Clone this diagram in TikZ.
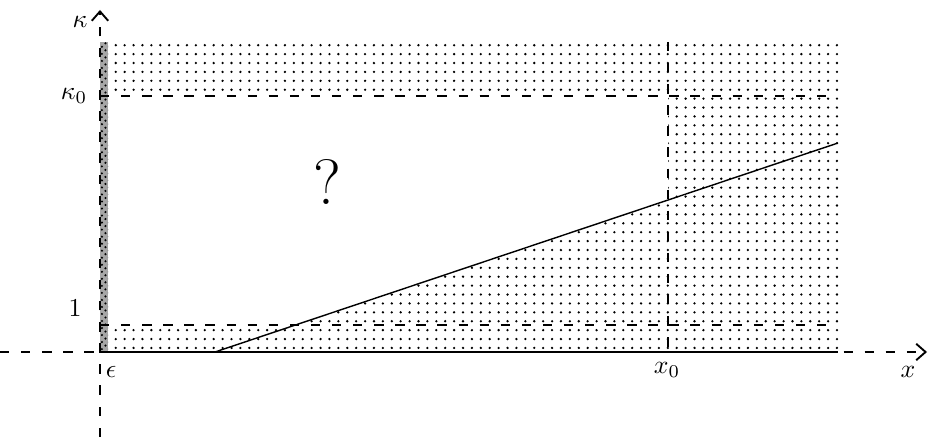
\documentclass[tikz,border=0pt]{standalone}
\usetikzlibrary{patterns,patterns.meta,arrows.meta}
\begin{document}
\begin{tikzpicture}[
    x=0.015cm, y=-0.015cm,
    % Ejes y guias discontinuas
    axis/.style={semithick, dash pattern=on 4pt off 5pt,
                 -{Straight Barb[length=4pt, width=7pt, line width=0.8pt]}},
    guide/.style={semithick, dash pattern=on 4pt off 5pt},
    % Zonas sombreadas
    dotted area/.style={pattern={Dots[distance=3.8pt, radius=0.55pt]}},
    strip/.style={fill=black!35, postaction={pattern=crosshatch dots}},
    lbl/.style={inner sep=1pt, scale=1.1}
]
\useasboundingbox (0,0) rectangle (935,437);

% --- Puntos de referencia ---
\coordinate (O) at (100,352);
\coordinate (xs) at (0,352);
\coordinate (xe) at (927,352);
\coordinate (ys) at (100,437);
\coordinate (ye) at (100,10);
\coordinate (bR) at (838,352);
\coordinate (k0L) at (100,96);
\coordinate (k0R) at (838,96);
\coordinate (oneL) at (100,325);
\coordinate (oneR) at (838,325);
\coordinate (x0T) at (668,42);
\coordinate (x0B) at (668,352);
\coordinate (la) at (215,352);
\coordinate (lb) at (838,143);

% --- Regiones punteadas ---
\fill[dotted area] (108,42) rectangle (838,352);
\fill[white] (108,96) -- (668,96) -- (668,200) -- (295.5,325) -- (108,325) -- cycle;
\fill[strip] (100,42) rectangle (108,352);

% --- Guias ---
\draw[guide] (k0L) -- (k0R);
\draw[guide] (oneL) -- (oneR);
\draw[guide] (x0T) -- (x0B);

% --- Ejes ---
\draw[axis] (xs) -- (xe);
\draw[axis] (ys) -- (ye);
\draw[semithick] (O) -- (bR);

% --- Recta ---
\draw[semithick] (la) -- (lb);

% --- Etiquetas ---
\node[lbl] (kappa) at (80,22) {$\kappa$};
\node[lbl] (kappa0) at (74,96) {$\kappa_0$};
\node[lbl] (one) at (75,308) {$1$};
\node[lbl] (eps) at (111,372) {$\epsilon$};
\node[lbl] (xzero) at (667,370) {$x_0$};
\node[lbl] (xlab) at (908,372) {$x$};
\node[lbl, font=\Huge] (quest) at (327,182) {?};

\end{tikzpicture}
\end{document}
